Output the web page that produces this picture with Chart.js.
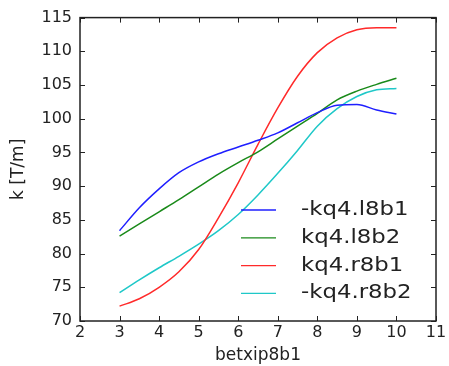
<!DOCTYPE html>
<html>
<head>
<meta charset="utf-8">
<script src="https://cdn.jsdelivr.net/npm/chart.js@4"></script>
<style>
  html, body { margin: 0; padding: 0; background: #fff; }
  #wrap { width: 449px; height: 366px; }
</style>
</head>
<body>
<div id="wrap"><canvas id="chart" width="449" height="366"></canvas></div>
<script>
// data
const betx = [3, 3.5, 4, 4.5, 5, 5.5, 6, 6.5, 7, 7.5, 8, 8.5, 9, 9.5, 10];
const kq4l8b1 = [83.4, 86.8, 89.6, 92.0, 93.6, 94.8, 95.8, 96.8, 97.9, 99.4, 100.9, 102.0, 102.1, 101.3, 100.7];
const kq4l8b2 = [82.6, 84.4, 86.2, 88.0, 89.9, 91.8, 93.5, 95.1, 97.0, 98.9, 100.8, 102.8, 104.1, 105.1, 106.0];
const kq4r8b1 = [72.2, 73.3, 75.0, 77.3, 80.6, 85.3, 90.5, 96.2, 101.6, 106.3, 109.8, 112.0, 113.2, 113.5, 113.5];
const kq4r8b2 = [74.2, 76.1, 77.9, 79.6, 81.4, 83.4, 85.8, 88.7, 91.9, 95.3, 98.9, 101.5, 103.3, 104.3, 104.5];
const seriesNames = ["-kq4.l8b1", "kq4.l8b2", "kq4.r8b1", "-kq4.r8b2"];
const seriesColors = ["#1f1fff", "#1a8a1a", "#ff2a2a", "#1fc8c8"];

const allSeries = [kq4l8b1, kq4l8b2, kq4r8b1, kq4r8b2];

const font = "'DejaVu Sans', sans-serif";

// inward ticks on all four sides + legend box in the lower right
const boxTicks = {
  id: "boxTicks",
  afterDraw(chart) {
    const ctx = chart.ctx;
    const a = chart.chartArea;
    const xs = chart.scales.x, ys = chart.scales.y;
    ctx.save();
    ctx.strokeStyle = "#222";
    ctx.lineWidth = 1;
    ctx.beginPath();
    xs.ticks.forEach(t => {
      const px = Math.round(xs.getPixelForValue(t.value)) + 0.5;
      ctx.moveTo(px, a.bottom); ctx.lineTo(px, a.bottom - 5);
      ctx.moveTo(px, a.top); ctx.lineTo(px, a.top + 5);
    });
    ys.ticks.forEach(t => {
      const py = Math.round(ys.getPixelForValue(t.value)) + 0.5;
      ctx.moveTo(a.left, py); ctx.lineTo(a.left + 5, py);
      ctx.moveTo(a.right, py); ctx.lineTo(a.right - 5, py);
    });
    ctx.stroke();
    ctx.lineWidth = 1.5;
    ctx.strokeRect(a.left, a.top, a.right - a.left, a.bottom - a.top);

    ctx.font = "19px " + font;
    ctx.textBaseline = "middle";
    ctx.fillStyle = "#222";
    seriesNames.forEach((name, i) => {
      const y = 210 + i * 27.8;
      ctx.strokeStyle = seriesColors[i];
      ctx.lineWidth = 1.3;
      ctx.beginPath();
      ctx.moveTo(241, y); ctx.lineTo(276, y);
      ctx.stroke();
      // the reference text is a bit wide
      ctx.save();
      ctx.translate(301, y);
      ctx.scale(1.2, 1);
      ctx.fillText(name, 0, 0);
      ctx.restore();
    });
    ctx.restore();
  }
};

new Chart(document.getElementById("chart"), {
  type: "line",
  data: {
    datasets: allSeries.map((vals, i) => ({
      label: seriesNames[i],
      data: betx.map((x, j) => ({ x: x, y: vals[j] })),
      borderColor: seriesColors[i],
      borderWidth: 1.5,
      pointRadius: 0,
      fill: false,
      cubicInterpolationMode: "monotone"
    }))
  },
  options: {
    responsive: false,
    animation: false,
    layout: { padding: { left: 0, top: 15, right: 13, bottom: 0 } },
    plugins: { legend: { display: false }, tooltip: { enabled: false } },
    scales: {
      x: {
        type: "linear",
        min: 2, max: 11,
        ticks: { stepSize: 1, color: "#222", font: { family: font, size: 16 }, padding: 2, maxRotation: 0 },
        grid: { display: false, drawTicks: false },
        border: { display: false },
        title: { display: true, text: "betxip8b1", color: "#222", font: { family: font, size: 17 }, padding: { top: 2, bottom: 0 } },
        afterFit: s => { s.height = 45; }
      },
      y: {
        min: 70, max: 115,
        ticks: { stepSize: 5, color: "#222", font: { family: font, size: 16 }, padding: 8 },
        grid: { display: false, drawTicks: false },
        border: { display: false },
        title: { display: true, text: "k [T/m]", color: "#222", font: { family: font, size: 17 }, padding: { top: 8, bottom: 4 } },
        afterFit: s => { s.width = 80; }
      }
    }
  },
  plugins: [boxTicks]
});
</script>
</body>
</html>
